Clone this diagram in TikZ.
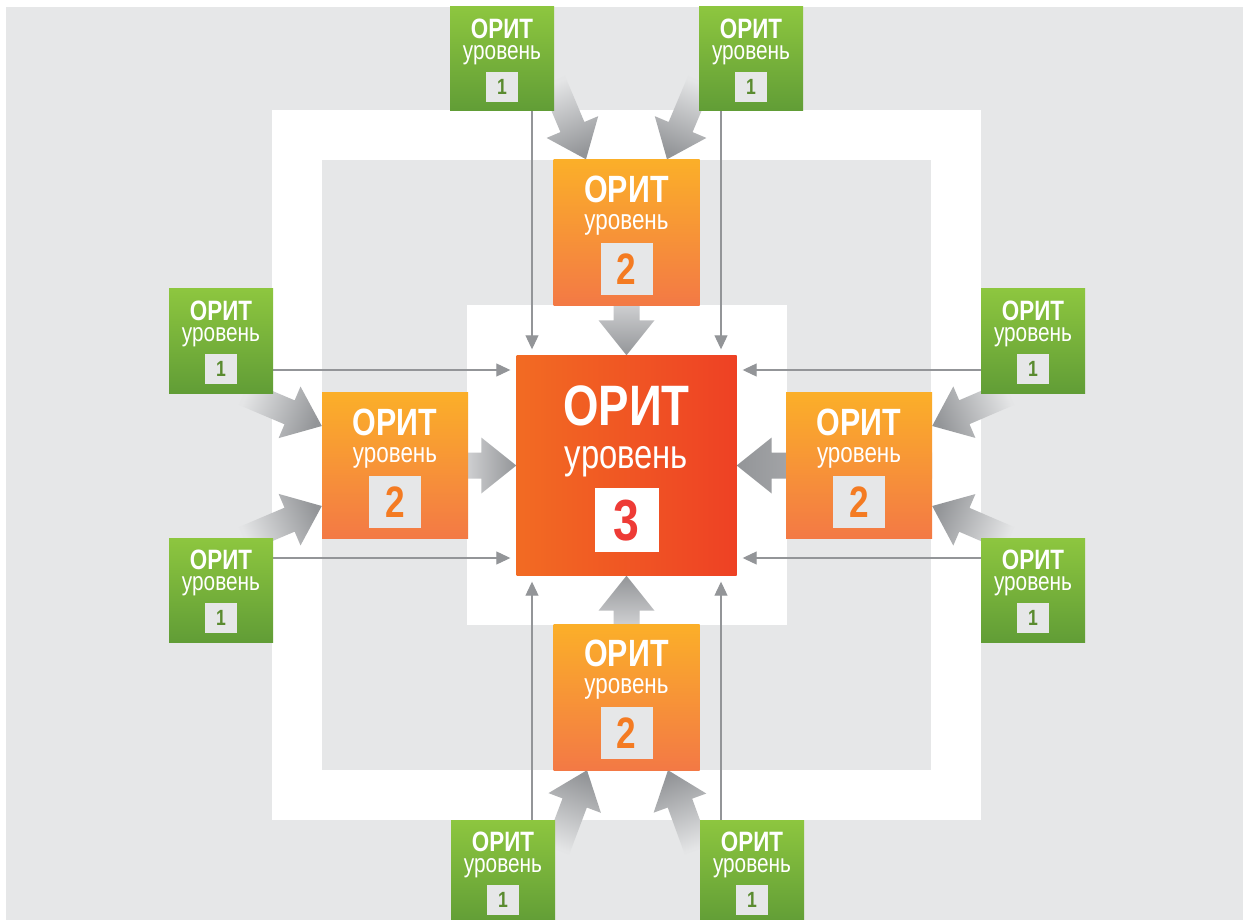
\documentclass[tikz,border=0pt]{standalone}
\usepackage{fontspec}
\setmainfont{Liberation Sans}
\newfontfamily\cond{Liberation Sans}[FakeStretch=0.8]
\usetikzlibrary{calc,arrows.meta}
\definecolor{bg}{HTML}{E6E7E8}
\definecolor{gtop}{HTML}{8DC63F}
\definecolor{gbot}{HTML}{619D36}
\definecolor{otop}{HTML}{FBAF29}
\definecolor{obot}{HTML}{F37945}
\definecolor{rleft}{HTML}{F26B23}
\definecolor{rright}{HTML}{EE4124}
\definecolor{dgreen}{HTML}{5A8B2F}
\definecolor{dorange}{HTML}{F47B22}
\definecolor{dred}{HTML}{EE3B36}
\definecolor{arrdark}{HTML}{939598}
\definecolor{arrlight}{HTML}{E4E5E6}
\definecolor{arrmid}{HTML}{CDCED0}
\definecolor{thinline}{HTML}{939598}
\pgfdeclarelayer{bglayer}
\pgfdeclarelayer{arrlayer}
\pgfsetlayers{bglayer,arrlayer,main}
\tikzset{
  gbox/.style={rectangle, draw=none, inner sep=0, minimum width=104, minimum height=104, top color=gtop, bottom color=gbot},
  obox/.style={rectangle, draw=none, inner sep=0, minimum width=146, minimum height=146, top color=otop, bottom color=obot},
  rbox/.style={rectangle, draw=none, inner sep=0, minimum width=220, minimum height=220, left color=rleft, right color=rright},
  lonea/.style={anchor=base, inner sep=0, text=white, font=\cond\bfseries\fontsize{28}{28}\selectfont},
  loneb/.style={anchor=base, inner sep=0, text=white, font=\cond\fontsize{26}{26}\selectfont},
  lonen/.style={inner sep=0, minimum width=32, minimum height=30, fill=bg, text=dgreen, font=\cond\bfseries\fontsize{22}{22}\selectfont},
  ltwoa/.style={anchor=base, inner sep=0, text=white, font=\cond\bfseries\fontsize{38}{38}\selectfont},
  ltwob/.style={anchor=base, inner sep=0, text=white, font=\cond\fontsize{28}{28}\selectfont},
  ltwon/.style={inner sep=0, minimum width=52, minimum height=52, fill=bg, text=dorange, font=\cond\bfseries\fontsize{44}{44}\selectfont},
  lthra/.style={anchor=base, inner sep=0, text=white, font=\cond\bfseries\fontsize{57}{57}\selectfont},
  lthrb/.style={anchor=base, inner sep=0, text=white, font=\cond\fontsize{41}{41}\selectfont},
  lthrn/.style={inner sep=0, minimum width=64, minimum height=64, fill=white, text=dred, font=\cond\bfseries\fontsize{58}{58}\selectfont},
  thinarr/.style={draw=thinline, line width=1.1pt, -{Triangle[length=14pt,width=13pt]}, shorten >=6pt},
}
\newcommand\lvlone[2]{%
  \node[gbox] (#1) at (#2) {};
  \node[lonea] (#1a) at ($(#1.north)+(0,32)$) {ОРИТ};
  \node[loneb] (#1b) at ($(#1.north)+(0,53)$) {уровень};
  \node[lonen] (#1n) at ($(#1.north)+(0,80)$) {1};
}
\newcommand\lvltwo[2]{%
  \node[obox] (#1) at (#2) {};
  \node[ltwoa] (#1a) at ($(#1.north)+(0,43)$) {ОРИТ};
  \node[ltwob] (#1b) at ($(#1.north)+(0,70)$) {уровень};
  \node[ltwon] (#1n) at ($(#1.north)+(0,109.5)$) {2};
}
% #1 tail, #2 tip, #3 shading angle, #4 light colour, #5 head length
\newcommand\fatarrow[5]{%
  \shade[top color=arrdark, bottom color=#4, shading angle=#3]
   ($(#1)!13pt!90:(#2)$) -- ($($(#2)!#5!(#1)$)!13pt!-90:(#1)$) -- ($($(#2)!#5!(#1)$)!28pt!-90:(#1)$) -- (#2)
   -- ($($(#2)!#5!(#1)$)!28pt!90:(#1)$) -- ($($(#2)!#5!(#1)$)!13pt!90:(#1)$) -- ($(#1)!13pt!-90:(#2)$) -- cycle;
}
\begin{document}
\begin{tikzpicture}[x=1pt,y=-1pt]
\useasboundingbox (0,0) rectangle (1243,920);
\begin{pgfonlayer}{bglayer}
\fill[bg] (6,7) rectangle (1243,920);
\fill[white] (272,110) rectangle (981,820);
\fill[bg] (322,160) rectangle (931,770);
\fill[white] (467,305) rectangle (787,625);
\end{pgfonlayer}

% level 3
\node[rbox] (c) at (626.5,465.5) {};
\node[lthra] (ca) at ($(c.north)+(0,70)$) {ОРИТ};
\node[lthrb] (cb) at ($(c.north)+(0,113)$) {уровень};
\node[lthrn] (cn) at ($(c.north)+(0,165)$) {3};

% level 2
\lvltwo{t2}{626.5,232.5}
\lvltwo{l2}{395,465.5}
\lvltwo{r2}{859,465.5}
\lvltwo{b2}{626.5,697}

% level 1
\lvlone{g1}{502,59}
\lvlone{g2}{751,59}
\lvlone{g3}{221,341}
\lvlone{g4}{221,590}
\lvlone{g5}{1033,341}
\lvlone{g6}{1033,590}
\lvlone{g7}{503,872}
\lvlone{g8}{752,872}

% tails and tips of the thick arrows
\coordinate (a1) at (553,81);
\coordinate (a2) at (700,81);
\coordinate (a3) at (244,393);
\coordinate (a4) at (244,539);
\coordinate (a5) at (1009,393);
\coordinate (a6) at (1009,539);
\coordinate (a7) at (557,850);
\coordinate (a8) at (697,850);
\coordinate (p1) at ($(t2.north)+(-40.5,0)$);
\coordinate (p2) at ($(t2.north)+(40.5,0)$);
\coordinate (p3) at ($(l2.west)+(0,-39.5)$);
\coordinate (p4) at ($(l2.west)+(0,40.5)$);
\coordinate (p5) at ($(r2.east)+(0,-39.5)$);
\coordinate (p6) at ($(r2.east)+(0,40.5)$);
\coordinate (p7) at ($(b2.south)+(-39.5,0)$);
\coordinate (p8) at ($(b2.south)+(41.5,0)$);

\begin{pgfonlayer}{arrlayer}
\fatarrow{a1}{p1}{-157.4}{arrlight}{35pt}
\fatarrow{a2}{p2}{157.4}{arrlight}{35pt}
\fatarrow{a3}{p3}{-112.9}{arrlight}{35pt}
\fatarrow{a4}{p4}{-67.1}{arrlight}{35pt}
\fatarrow{a5}{p5}{112.9}{arrlight}{35pt}
\fatarrow{a6}{p6}{67.1}{arrlight}{35pt}
\fatarrow{a7}{p7}{-20.3}{arrlight}{35pt}
\fatarrow{a8}{p8}{20.3}{arrlight}{35pt}
\fatarrow{t2.south}{c.north}{180}{arrmid}{35pt}
\fatarrow{b2.north}{c.south}{0}{arrmid}{35pt}
\fatarrow{l2.east}{c.west}{-90}{arrmid}{35pt}
\fatarrow{r2.east}{c.east}{90}{arrmid}{35pt}
% thin connectors
\coordinate (s1) at ($(g1.south)+(30,0)$);
\coordinate (s2) at ($(g2.south)+(-30,0)$);
\coordinate (s3) at ($(g3.east)+(0,29)$);
\coordinate (s4) at ($(g4.east)+(0,-32)$);
\coordinate (s5) at ($(g5.west)+(0,29)$);
\coordinate (s6) at ($(g6.west)+(0,-32)$);
\coordinate (s7) at ($(g7.north)+(29,0)$);
\coordinate (s8) at ($(g8.north)+(-31,0)$);
\draw[thinarr] (s1) -- (s1 |- c.north);
\draw[thinarr] (s2) -- (s2 |- c.north);
\draw[thinarr] (s3) -- (s3 -| c.west);
\draw[thinarr] (s4) -- (s4 -| c.west);
\draw[thinarr] (s5) -- (s5 -| c.east);
\draw[thinarr] (s6) -- (s6 -| c.east);
\draw[thinarr] (s7) -- (s7 |- c.south);
\draw[thinarr] (s8) -- (s8 |- c.south);
\end{pgfonlayer}
\end{tikzpicture}
\end{document}
